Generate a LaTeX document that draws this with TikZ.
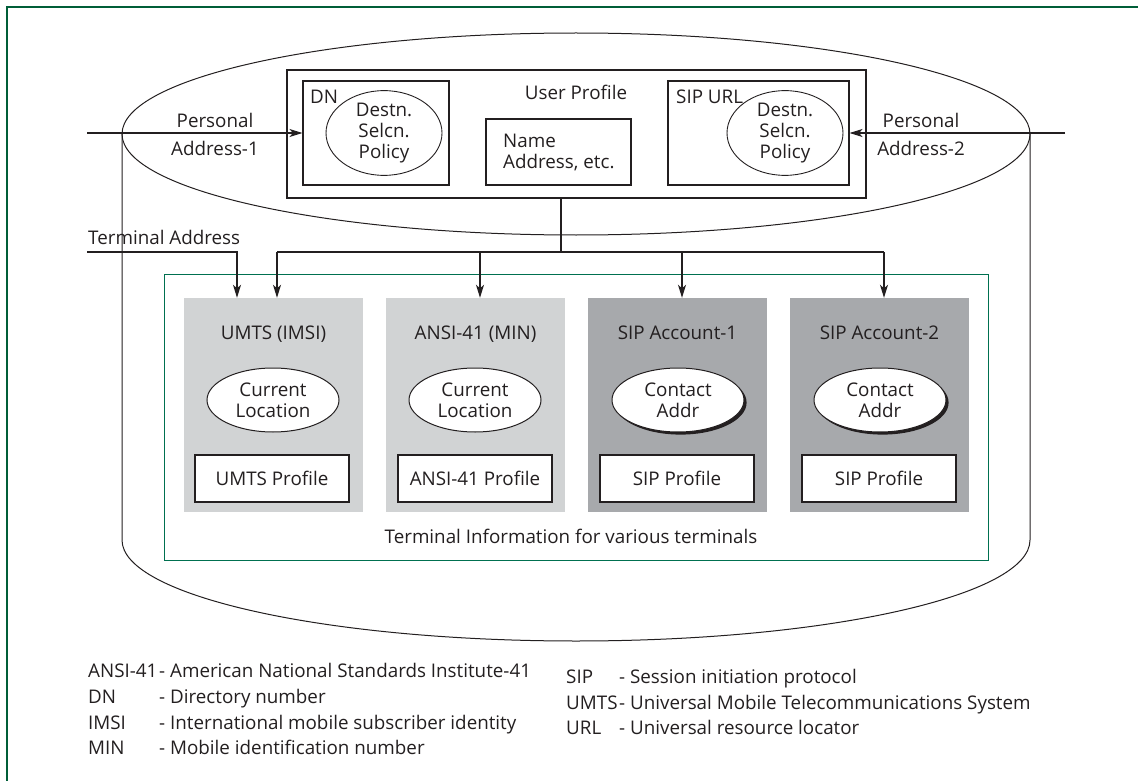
\documentclass[tikz,border=0pt]{standalone}
\usepackage{fontspec}
\setmainfont{Open Sans}
\usetikzlibrary{arrows.meta,shapes.geometric,shadows,calc}
\definecolor{framegreen}{RGB}{0,94,56}
\definecolor{boxgreen}{RGB}{0,112,80}
\definecolor{termlight}{RGB}{209,211,212}
\definecolor{termdark}{RGB}{167,169,172}
\definecolor{ink}{RGB}{35,31,32}
\tikzset{
  txt/.style={font=\fontsize{18.8}{21}\selectfont, text=ink, inner sep=0pt},
  lbl/.style={txt, anchor=base},
  lblw/.style={txt, anchor=base west},
  thin/.style={draw=ink, line width=1pt},
  line/.style={draw=ink, line width=1.2pt},
  arr/.style={draw=ink, line width=1.2pt, -{Stealth[length=13pt,width=8pt,inset=3.5pt]}},
  pbox/.style={txt, draw=ink, line width=1.1pt, rectangle},
  ell/.style={txt, draw=ink, line width=1pt, ellipse, fill=white, align=center,
    minimum width=132, minimum height=64},
  pol/.style={txt, draw=ink, line width=0.9pt, ellipse, align=center,
    minimum width=116, minimum height=84},
  shadowed/.style={drop shadow={shadow xshift=2.6pt, shadow yshift=-2.6pt, fill=ink, opacity=1}},
  termbox/.style={rectangle, minimum width=179, minimum height=214, inner sep=0pt},
  profbox/.style={pbox, fill=white, minimum width=154, minimum height=47},
}
\begin{document}
\begin{tikzpicture}[x=1pt, y=-1pt]
\useasboundingbox (0,0) rectangle (1138,781);

% outer frame (top and left edges)
\draw[framegreen, line width=2.6pt] (7,800) -- (7,7) -- (1160,7);

% database cylinder
\draw[thin] (576,134) ellipse [x radius=454, y radius=101];
\draw[thin] (122,134) -- (122,540) arc[start angle=180, end angle=0, x radius=454, y radius=101] -- (1030,134);

% user profile
\node[pbox, minimum width=579, minimum height=128] (up) at (576.5,134) {};
\node[lbl] (uptitle) at (576,99.7) {User Profile};
\node[pbox, minimum width=146, minimum height=104] (dn) at (376,133) {};
\node[lblw] (dnlabel) at (310,103.7) {DN};
\node[pol] (dnpol) at (384,133) {Destn.\\Selcn.\\Policy};
\node[pbox, minimum width=181, minimum height=104] (sip) at (758.5,133) {};
\node[lblw] (siplabel) at (676,103.7) {SIP URL};
\node[pol] (sippol) at (785,133) {Destn.\\Selcn.\\Policy};
\node[pbox, minimum width=145, minimum height=66] (nm) at (558.5,152) {};
\node[txt, anchor=west, align=left] (nmtext) at (503,153) {Name\\Address, etc.};

% personal addresses
\coordinate (pa1) at (87,133);
\coordinate (pa2) at (1065,133);
\draw[arr] (pa1) -- (dn.west);
\draw[arr] (pa2) -- (sip.east);
\node[lbl] (pa1a) at (215,127.7) {Personal};
\node[lbl] (pa1b) at (215,155.7) {Address-1};
\node[lbl] (pa2a) at (921,127.7) {Personal};
\node[lbl] (pa2b) at (921,155.7) {Address-2};

% terminal information area
\node[draw=boxgreen, line width=1pt, minimum width=824, minimum height=286, inner sep=0pt] (ti) at (576,417) {};
\node[lbl] (tilabel) at (571,543.7) {Terminal Information for various terminals};

\node[termbox, fill=termlight] (t1) at (273.5,405) {};
\node[termbox, fill=termlight] (t2) at (475.5,405) {};
\node[termbox, fill=termdark] (t3) at (677.5,405) {};
\node[termbox, fill=termdark] (t4) at (879.5,405) {};

\node[lbl] (t1title) at (273.5,339.7) {UMTS (IMSI)};
\node[lbl] (t2title) at (475.5,339.7) {ANSI-41 (MIN)};
\node[lbl] (t3title) at (677.5,339.7) {SIP Account-1};
\node[lbl] (t4title) at (879.5,339.7) {SIP Account-2};

\node[ell] (t1loc) at (273,400) {Current\\Location};
\node[ell] (t2loc) at (475,400) {Current\\Location};
\node[ell, shadowed] (t3loc) at (678,400) {Contact\\Addr};
\node[ell, shadowed] (t4loc) at (880,400) {Contact\\Addr};

\node[profbox] (t1prof) at (272,478.5) {UMTS Profile};
\node[profbox] (t2prof) at (475,478.5) {ANSI-41 Profile};
\node[profbox] (t3prof) at (677,478.5) {SIP Profile};
\node[profbox] (t4prof) at (879,478.5) {SIP Profile};

% distribution from the user profile to the terminals
\coordinate (hub) at (561,252);
\coordinate (b1) at (277,252);
\coordinate (b2) at (480,252);
\coordinate (b3) at (682,252);
\coordinate (b4) at (884,252);
\draw[line] (up.south -| hub) -- (hub);
\draw[line] (b1) -- (b4);
\draw[arr] (b1) -- (b1 |- t1.north);
\draw[arr] (b2) -- (b2 |- t2.north);
\draw[arr] (b3) -- (b3 |- t3.north);
\draw[arr] (b4) -- (b4 |- t4.north);

% terminal address
\coordinate (ta) at (87,252);
\coordinate (tac) at (237,252);
\draw[arr] (ta) -- (tac) -- (tac |- t1.north);
\node[lblw] (talabel) at (88,244.7) {Terminal Address};

% abbreviations
\node[lblw] (k1) at (88,677.7) {ANSI-41};
\node[lblw] (v1) at (159,677.7) {- American National Standards Institute-41};
\node[lblw] (k2) at (88,703.7) {DN};
\node[lblw] (v2) at (159,703.7) {- Directory number};
\node[lblw] (k3) at (88,729.7) {IMSI};
\node[lblw] (v3) at (159,729.7) {- International mobile subscriber identity};
\node[lblw] (k4) at (88,754.7) {MIN};
\node[lblw] (v4) at (159,754.7) {- Mobile identification number};
\node[lblw] (k5) at (566,683.7) {SIP};
\node[lblw] (v5) at (619,683.7) {- Session initiation protocol};
\node[lblw] (k6) at (566,709.7) {UMTS};
\node[lblw] (v6) at (619,709.7) {- Universal Mobile Telecommunications System};
\node[lblw] (k7) at (566,734.7) {URL};
\node[lblw] (v7) at (619,734.7) {- Universal resource locator};
\end{tikzpicture}
\end{document}
